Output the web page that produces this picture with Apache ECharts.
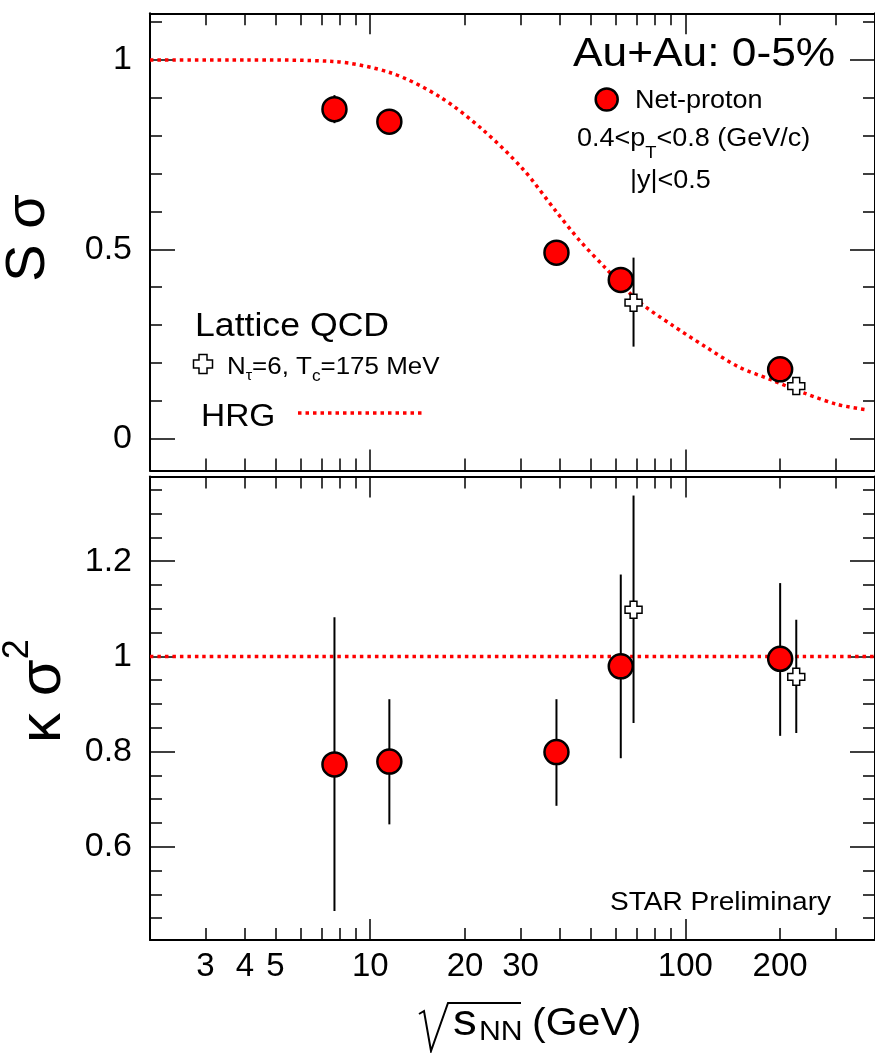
<!DOCTYPE html>
<html>
<head>
<meta charset="utf-8">
<script src="https://cdn.jsdelivr.net/npm/echarts@6/dist/echarts.min.js"></script>
<style>
html, body { margin: 0; padding: 0; background: #fff; }
#diagram { width: 875px; height: 1053px; }
</style>
</head>
<body>
<div id="diagram"></div>
<script>
// values
var energies = [7.7, 11.5, 39, 62.4, 200];
var sSigma = [0.870, 0.837, 0.491, 0.419, 0.183];
var sSigmaErr = [0.037, 0.012, 0.01, 0.01, 0.01];
var kSigma2 = [0.773, 0.779, 0.799, 0.979, 0.995];
var kSigma2Lo = [0.465, 0.647, 0.686, 0.786, 0.833];
var kSigma2Hi = [1.082, 0.910, 0.910, 1.172, 1.154];

var latticeEnergies = [68.5, 225];
var latticeS = [0.359, 0.139];
var latticeSLo = [0.243, 0.139];
var latticeSHi = [0.478, 0.139];
var latticeK = [1.098, 0.957];
var latticeKLo = [0.860, 0.839];
var latticeKHi = [1.338, 1.077];

var hrgEnergies = [2, 4, 7.6, 11.6, 16.6, 22.8, 30.5, 38.9, 46, 55.9, 71.2, 90.7, 115.7, 147.3, 187.7, 239, 305, 379];
var hrgS = [1.0, 1.0, 0.996, 0.966, 0.903, 0.815, 0.712, 0.600, 0.525, 0.450, 0.362, 0.30, 0.243, 0.19, 0.155, 0.12, 0.090, 0.076];
var hrgKEnergies = [2, 400];
var hrgK = [1, 1];

// tick positions
var xMajor = [10, 100];
var xMinor = [2, 3, 4, 5, 6, 7, 8, 9, 20, 30, 40, 50, 60, 70, 80, 90, 200, 300, 400];
var xLabels = [3, 4, 5, 10, 20, 30, 100, 200];
var sMajor = [0, 0.5, 1];
var sMinor = [0.1, 0.2, 0.3, 0.4, 0.6, 0.7, 0.8, 0.9, 1.1];
var kMajor = [0.6, 0.8, 1, 1.2];
var kMinor = [0.45, 0.5, 0.55, 0.65, 0.7, 0.75, 0.85, 0.9, 0.95, 1.05, 1.1, 1.15, 1.25, 1.3, 1.35];

var FONT = '"Liberation Sans", Arial, Helvetica, sans-serif';
var RED = '#ff0000';
var L10 = function (v) { return Math.log10(v); };

function xAxisDef(grid, pos, ticks, len, withLine, labels) {
    return {
        type: 'value', gridIndex: grid, position: pos,
        min: L10(2), max: L10(400),
        splitLine: { show: false },
        axisLine: { show: withLine, onZero: false, lineStyle: { color: '#000', width: 2 } },
        axisTick: { show: true, inside: true, length: len, customValues: ticks.map(L10),
                    lineStyle: { color: '#000', width: 1.5 } },
        axisLabel: labels ? {
            show: true, customValues: labels.map(L10),
            formatter: function (v) { return String(Math.round(Math.pow(10, v))); },
            fontSize: 33, fontFamily: FONT, color: '#000', margin: 10
        } : { show: false }
    };
}

function yAxisDef(grid, pos, min, max, ticks, len, withLine, labels) {
    return {
        type: 'value', gridIndex: grid, position: pos, min: min, max: max,
        splitLine: { show: false },
        axisLine: { show: withLine, onZero: false, lineStyle: { color: '#000', width: 2 } },
        axisTick: { show: true, inside: true, length: len, customValues: ticks,
                    lineStyle: { color: '#000', width: 1.5 } },
        axisLabel: labels ? {
            show: true, customValues: ticks,
            formatter: function (v) { return String(+v.toFixed(2)); },
            fontSize: 34, fontFamily: FONT, color: '#000', margin: 18
        } : { show: false }
    };
}

function errorBars(xi, yi, xs, lo, hi) {
    return {
        type: 'custom', xAxisIndex: xi, yAxisIndex: yi, silent: true, z: 2,
        encode: { x: 0, y: [1, 2] },
        data: xs.map(function (x, i) { return [L10(x), lo[i], hi[i]]; }),
        renderItem: function (params, api) {
            var a = api.coord([api.value(0), api.value(1)]);
            var b = api.coord([api.value(0), api.value(2)]);
            return { type: 'line', shape: { x1: a[0], y1: a[1], x2: b[0], y2: b[1] },
                     style: { stroke: '#000', lineWidth: 2 } };
        }
    };
}

var crossPath = 'path://M3,0L7,0L7,3L10,3L10,7L7,7L7,10L3,10L3,7L0,7L0,3L3,3Z';

function points(xi, yi, xs, ys) {
    return {
        type: 'scatter', xAxisIndex: xi, yAxisIndex: yi, z: 3,
        symbol: 'circle', symbolSize: 24,
        itemStyle: { color: RED, borderColor: '#000', borderWidth: 2.5, opacity: 1 },
        data: xs.map(function (x, i) { return [L10(x), ys[i]]; })
    };
}
function crosses(xi, yi, xs, ys) {
    return {
        type: 'scatter', xAxisIndex: xi, yAxisIndex: yi, z: 5,
        symbol: crossPath, symbolSize: 17,
        itemStyle: { color: '#fff', borderColor: '#000', borderWidth: 1.5, opacity: 1 },
        data: xs.map(function (x, i) { return [L10(x), ys[i]]; })
    };
}
function hrgLine(xi, yi, xs, ys) {
    return {
        type: 'line', xAxisIndex: xi, yAxisIndex: yi, z: 1, showSymbol: false,
        smooth: 0.3,
        lineStyle: { color: RED, width: 3.5, type: [3.5, 4] },
        data: xs.map(function (x, i) { return [L10(x), ys[i]]; })
    };
}

// text made of pieces (sub/superscripts), laid out with measured widths
var ctx = document.createElement('canvas').getContext('2d');
function runs(x, y, parts, sx) {
    var out = [], cx = x;
    parts.forEach(function (p) {
        out.push({ type: 'text', x: cx, y: y + (p[2] || 0), scaleX: sx,
                   style: { text: p[0], fontSize: p[1], fontFamily: FONT, fill: '#000',
                            align: 'left', verticalAlign: 'middle' } });
        ctx.font = p[1] + 'px ' + FONT;
        cx += ctx.measureText(p[0]).width * sx;
    });
    return out;
}
function crossShape(cx, cy, h, a) {
    return { type: 'polygon', shape: { points: [
        [cx - a, cy - h], [cx + a, cy - h], [cx + a, cy - a], [cx + h, cy - a], [cx + h, cy + a],
        [cx + a, cy + a], [cx + a, cy + h], [cx - a, cy + h], [cx - a, cy + a], [cx - h, cy + a],
        [cx - h, cy - a], [cx - a, cy - a]] },
        style: { fill: '#fff', stroke: '#000', lineWidth: 1.5 } };
}

var SX = 1.08;
var graphics = []
    .concat(runs(573, 55, [['Au+Au: 0-5%', 41]], SX))
    .concat([{ type: 'circle', shape: { cx: 606.7, cy: 99.5, r: 11 },
               style: { fill: RED, stroke: '#000', lineWidth: 2.5 } }])
    .concat(runs(635, 101, [['Net-proton', 25]], SX))
    .concat(runs(577, 139, [['0.4<p', 25], ['T', 17, 14], ['<0.8 (GeV/c)', 25]], SX))
    .concat(runs(630, 181, [['|y|<0.5', 25]], SX))
    .concat(runs(195, 327, [['Lattice QCD', 33]], SX))
    .concat([crossShape(203, 364, 9.5, 4)])
    .concat(runs(227, 367, [['N', 24], ['\u03c4', 15, 9], ['=6, T', 24], ['c', 16, 10], ['=175 MeV', 24]], SX))
    .concat(runs(201, 417, [['HRG', 31]], SX))
    .concat([{ type: 'line', shape: { x1: 298, y1: 413, x2: 422, y2: 413 },
               style: { stroke: RED, lineWidth: 3.5, lineDash: [3.5, 4] } }])
    .concat(runs(610, 903, [['STAR Preliminary', 26]], SX))
    // y titles
    .concat([{ type: 'text', x: 29, y: 238, rotation: Math.PI / 2,
               style: { text: 'S \u03c3', fontSize: 56, fontFamily: FONT, fill: '#000',
                        align: 'center', verticalAlign: 'middle' } }])
    .concat([{ type: 'group', x: 43, y: 743, rotation: Math.PI / 2,
               children: runs(0, 0, [['\u03ba \u03c3', 60], ['2', 36, -25]], 1) }])
    // x title with radical sign
    .concat([{ type: 'polyline', shape: { points: [[419, 1014], [424, 1011], [431, 1051], [448, 1003], [521, 1003]] },
               style: { stroke: '#000', lineWidth: 2, fill: null } }])
    .concat(runs(453, 1023, [['s', 44]], SX))
    .concat(runs(479, 1032, [['NN', 28]], SX))
    .concat(runs(532, 1025, [['(GeV)', 38]], SX));

var myChart = echarts.init(document.getElementById('diagram'));

var option = {
    backgroundColor: '#fff',
    animation: false,
    grid: [
        { left: 150, top: 13.3, width: 727, height: 457.2 },
        { left: 150, top: 476.5, width: 727, height: 463.5 }
    ],
    xAxis: [
        xAxisDef(0, 'bottom', xMajor, 21, true, null),
        xAxisDef(0, 'bottom', xMinor, 12, false, null),
        xAxisDef(0, 'top', xMajor, 21, true, null),
        xAxisDef(0, 'top', xMinor, 12, false, null),
        xAxisDef(1, 'bottom', xMajor, 21, true, xLabels),
        xAxisDef(1, 'bottom', xMinor, 12, false, null),
        xAxisDef(1, 'top', xMajor, 21, true, null),
        xAxisDef(1, 'top', xMinor, 12, false, null)
    ],
    yAxis: [
        yAxisDef(0, 'left', -0.084, 1.123, sMajor, 25, true, true),
        yAxisDef(0, 'left', -0.084, 1.123, sMinor, 12, false, false),
        yAxisDef(0, 'right', -0.084, 1.123, sMajor, 25, true, false),
        yAxisDef(0, 'right', -0.084, 1.123, sMinor, 12, false, false),
        yAxisDef(1, 'left', 0.404, 1.378, kMajor, 25, true, true),
        yAxisDef(1, 'left', 0.404, 1.378, kMinor, 12, false, false),
        yAxisDef(1, 'right', 0.404, 1.378, kMajor, 25, true, false),
        yAxisDef(1, 'right', 0.404, 1.378, kMinor, 12, false, false)
    ],
    series: [
        hrgLine(0, 0, hrgEnergies, hrgS),
        errorBars(0, 0, energies,
            sSigma.map(function (v, i) { return v - sSigmaErr[i]; }),
            sSigma.map(function (v, i) { return v + sSigmaErr[i]; })),
        points(0, 0, energies, sSigma),
        errorBars(0, 0, latticeEnergies, latticeSLo, latticeSHi),
        crosses(0, 0, latticeEnergies, latticeS),

        hrgLine(4, 4, hrgKEnergies, hrgK),
        errorBars(4, 4, energies, kSigma2Lo, kSigma2Hi),
        points(4, 4, energies, kSigma2),
        errorBars(4, 4, latticeEnergies, latticeKLo, latticeKHi),
        crosses(4, 4, latticeEnergies, latticeK)
    ],
    graphic: graphics
};

myChart.setOption(option);
</script>
</body>
</html>
